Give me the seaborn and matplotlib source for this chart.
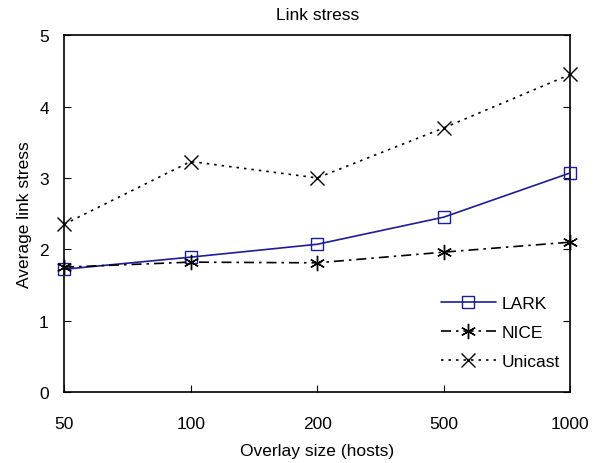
import matplotlib
matplotlib.use("Agg")
import matplotlib.pyplot as plt
import seaborn as sns
import pandas as pd

sizes = ["50", "100", "200", "500", "1000"]
lark = [1.72, 1.89, 2.07, 2.45, 3.07]
nice = [1.75, 1.82, 1.81, 1.96, 2.10]
unicast = [2.35, 3.23, 3.00, 3.70, 4.45]
series_names = ["LARK", "NICE", "Unicast"]
yticks = [0, 1, 2, 3, 4, 5]

sns.set_style("white")
plt.rcParams["font.family"] = ["Liberation Sans", "DejaVu Sans"]
plt.rcParams["text.color"] = "black"
plt.rcParams["axes.labelcolor"] = "black"
plt.rcParams["xtick.color"] = "black"
plt.rcParams["ytick.color"] = "black"

pos = list(range(len(sizes)))
df = pd.DataFrame({
    "pos": pos * 3,
    "value": lark + nice + unicast,
    "series": [s for s in series_names for _ in sizes],
})

fig = plt.figure(figsize=(5.99, 4.64), dpi=100)
ax = fig.add_axes([0.107, 0.153, 0.845, 0.769])

styles = {
    "LARK": dict(color="#1c1c9c", marker="s", ms=9, ls="-"),
    "NICE": dict(color="black", marker=(6, 2, 0), ms=11, ls=(0, (6, 3, 1.5, 3))),
    "Unicast": dict(color="black", marker="x", ms=10, ls=(0, (1.5, 3))),
}

for name in series_names:
    st = styles[name]
    sub = df[df["series"] == name]
    sns.lineplot(data=sub, x="pos", y="value", ax=ax, color=st["color"],
                 marker=st["marker"], markersize=st["ms"], markerfacecolor="none",
                 markeredgecolor=st["color"], markeredgewidth=1.0,
                 linewidth=1.2, label=name, linestyle=st["ls"], clip_on=False, zorder=3)

ax.set_xlim(pos[0], pos[-1])
ax.set_ylim(0, 5)
ax.set_xticks(pos)
ax.set_xticklabels(sizes)
ax.set_yticks(yticks)
ax.tick_params(axis="x", direction="in", length=5, pad=17, labelsize=12.5, top=False, bottom=True)
ax.tick_params(axis="y", direction="in", length=5, pad=11, labelsize=12.5, left=True, right=True)
for sp in ax.spines.values():
    sp.set_color("black")
    sp.set_linewidth(1.2)
ax.set_xlabel("Overlay size (hosts)", fontsize=12.5, labelpad=9)
ax.set_ylabel("Average link stress", fontsize=12.5, labelpad=5)
ax.set_title("Link stress", fontsize=12.5, pad=12)

leg = ax.legend(loc="center left", frameon=False, fontsize=12.5, handlelength=3.2,
                bbox_to_anchor=(0.713, 0.168), labelspacing=0.8, handletextpad=0.3)

fig.savefig("out.png", dpi=100)
